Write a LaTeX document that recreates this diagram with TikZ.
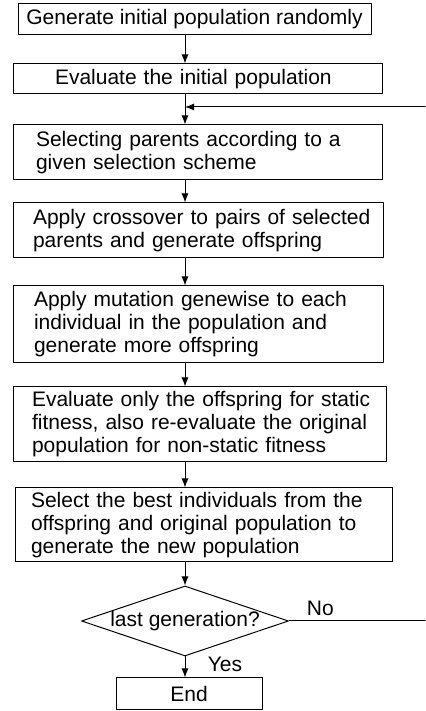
\documentclass[tikz,border=0pt]{standalone}
\usepackage{fontspec}
\setmainfont{Liberation Sans}
\usetikzlibrary{shapes.geometric, arrows.meta}

\tikzset{
  box/.style={draw, line width=1pt, inner sep=0pt, align=left,
    font=\fontsize{21}{23}\selectfont},
  decision/.style={draw, diamond, line width=1pt, inner sep=0pt,
    font=\fontsize{21}{23}\selectfont},
  arr/.style={line width=1pt, -{Latex[length=9pt, width=7pt]}},
  link/.style={line width=1pt},
}
\hfuzz=20pt

\begin{document}
\begin{tikzpicture}[line cap=round, line join=round, x=1pt, y=1pt]
  \useasboundingbox (0,0) rectangle (425,711);
  \coordinate (axis) at (185,0);
  \coordinate (edge) at (425,0);
  \coordinate (back) at (425,604);

  \node[box, align=center, minimum width=353, minimum height=31] (init) at (194.5,691.5)
    {Generate initial population randomly};
  \node[box, inner xsep=42pt, text width=285pt, minimum height=30] (evalinit) at (197.5,632)
    {Evaluate the initial population};
  \node[box, inner xsep=23pt, text width=323pt, minimum height=55] (select) at (197.5,558.5)
    {Selecting parents according to a\\given selection scheme};
  \node[box, inner xsep=20pt, text width=330pt, minimum height=55] (cross) at (198,480.5)
    {\mbox{Apply crossover to pairs of selected}\\parents and generate offspring};
  \node[box, inner xsep=21pt, text width=328pt, minimum height=77] (mutate) at (198,386.5)
    {Apply mutation genewise to each\\individual in the population and\\generate more offspring};
  \node[box, inner xsep=19pt, text width=335pt, minimum height=75] (evaloff) at (199.5,286.5)
    {\mbox{Evaluate only the offspring for static}\\\mbox{fitness, also re-evaluate the original}\\population for non-static fitness};
  \node[box, inner xsep=16pt, text width=345pt, minimum height=74] (best) at (203.5,186)
    {\mbox{Select the best individuals from the}\\\mbox{offspring and original population to}\\generate the new population};
  \node[decision, minimum width=207, minimum height=70] (last) at (185,90)
    {\makebox[0pt]{last generation?}};
  \node[box, align=center, minimum width=146, minimum height=32] (stop) at (189,17)
    {End};

  % main flow
  \draw[arr] (init.south -| axis) -- (evalinit.north -| axis);
  \draw[arr] (evalinit.south -| axis) -- (select.north -| axis);
  \draw[arr] (back) -- (back -| axis);
  \draw[arr] (select.south -| axis) -- (cross.north -| axis);
  \draw[arr] (cross.south -| axis) -- (mutate.north -| axis);
  \draw[arr] (mutate.south -| axis) -- (evaloff.north -| axis);
  \draw[arr] (evaloff.south -| axis) -- (best.north -| axis);
  \draw[arr] (best.south -| axis) -- (last.north);
  \draw[arr] (last.south) -- (stop.north -| axis)
    node[pos=0.36, right=19pt, font=\fontsize{21}{23}\selectfont] {Yes};
  \draw[link] (last.east) -- (last.east -| edge)
    node[pos=0.23, above, yshift=1pt, font=\fontsize{21}{23}\selectfont] {No};
\end{tikzpicture}
\end{document}
